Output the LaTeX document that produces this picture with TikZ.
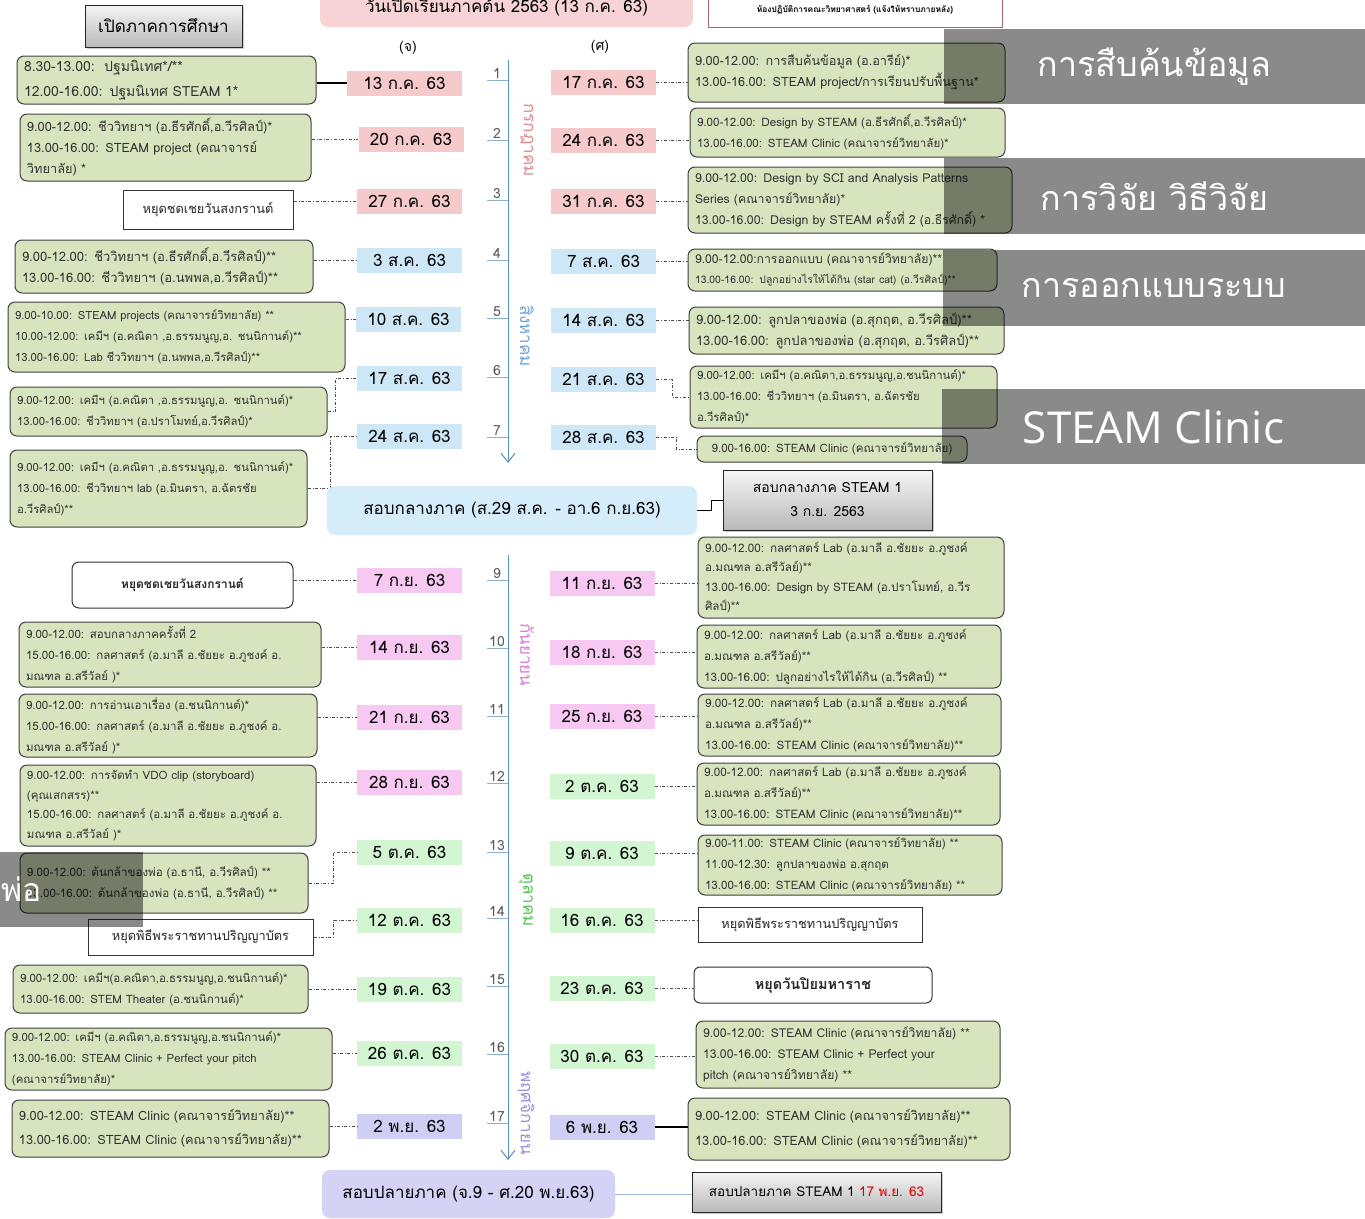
\documentclass[tikz,border=0pt]{standalone}
\usepackage{fontspec}
\setmainfont{Loma}[Script=Thai]
\newfontfamily\capfont{Open Sans}
\usetikzlibrary{arrows.meta,shadows}

\definecolor{actgreen}{HTML}{D7E4BD}
\definecolor{julpink}{HTML}{F6C9CB}
\definecolor{augblue}{HTML}{CDE7F7}
\definecolor{seppink}{HTML}{F7C8F1}
\definecolor{octgreen}{HTML}{D2F6D2}
\definecolor{novpurple}{HTML}{CFCFF5}
\definecolor{axisblue}{HTML}{5B8DBE}
\definecolor{julred}{HTML}{E08A8E}
\definecolor{augtxt}{HTML}{6FA3D4}
\definecolor{sepmag}{HTML}{D97BD6}
\definecolor{octgrn}{HTML}{55C155}
\definecolor{novpur}{HTML}{9A8FD8}
\definecolor{midblue}{HTML}{D5ECFA}
\definecolor{finpurple}{HTML}{D5D3F5}
\definecolor{toppink}{HTML}{F8D3D5}

\begin{document}
\begin{tikzpicture}[x=1pt,y=-1pt,
    act/.style={draw=black!75, line width=1pt, rounded corners=7pt, fill=actgreen,
        align=left, inner xsep=7pt, inner ysep=2pt, text=black!80,
        font=\fontsize{#1}{21}\selectfont},
    act/.default=12,
    off/.style={draw=black!80, line width=1pt, fill=white, text=black!85,
        font=\fontsize{12.8}{14}\selectfont},
    date/.style={minimum width=105, minimum height=25, inner sep=0pt,
        font=\fontsize{17}{19}\selectfont},
    wk/.style={anchor=south, inner sep=1pt, text=black!65, font=\fontsize{14}{16}\selectfont},
    month/.style={rotate=-90, font=\fontsize{17}{19}\selectfont},
    grey box/.style={draw=black!85, line width=1pt, top color=gray!8, bottom color=gray!55,
        drop shadow={shadow xshift=2pt, shadow yshift=-2pt, opacity=0.4}},
    caption/.style={fill=black, fill opacity=0.46, text opacity=1, text=white,
        inner sep=0pt, font=\fontsize{34}{40}\selectfont},
    link/.style={dash dot, line width=0.7pt, black!70}]
\useasboundingbox (0,0) rectangle (1365,1218);

% header
\node[grey box, minimum width=157, minimum height=42, font=\fontsize{17}{19}\selectfont] (opensem) at (163.5,26) {เปิดภาคการศึกษา};
\node[fill=toppink, rounded corners=8pt, minimum width=373, minimum height=40, font=\fontsize{17}{19}\selectfont] (semstart) at (506.5,7) {วันเปิดเรียนภาคต้น 2563 (13 ก.ค. 63)};
\node[draw=red!45!black!60, fill=white, minimum width=294, minimum height=34, font=\bfseries\fontsize{8.4}{10}\selectfont] (labroom) at (855,10) {ห้องปฏิบัติการคณะวิทยาศาสตร์ (แจ้งให้ทราบภายหลัง)};
\node[font=\fontsize{14}{16}\selectfont] (hmon) at (408,48) {(จ)};
\node[font=\fontsize{14}{16}\selectfont] (hfri) at (600,47) {(ศ)};

% first half: weeks 1-7
\draw[axisblue, line width=1pt, -{Straight Barb[length=9pt,width=14pt]}] (508,60) -- (508,463);
\foreach \n/\y in {1/80,2/140,3/200,4/260,5/318,6/377,7/437}{
    \draw[axisblue!70, line width=0.8pt] (487,\y) -- (508,\y);
    \node[wk] (wk\n) at (497,\y) {\n};
}
\node[month, text=julred] (jul) at (527,140) {กรกฎาคม};
\node[month, text=augtxt] (aug) at (527,336) {สิงหาคม};

% monday dates
\node[date, fill=julpink, minimum width=115] (mon1) at (404.5,83) {13 ก.ค. 63};
\node[date, fill=julpink] (mon2) at (411,139) {20 ก.ค. 63};
\node[date, fill=julpink] (mon3) at (409.5,201) {27 ก.ค. 63};
\node[date, fill=augblue] (mon4) at (409.5,260) {3 ส.ค. 63};
\node[date, fill=augblue] (mon5) at (408.5,319) {10 ส.ค. 63};
\node[date, fill=augblue] (mon6) at (409.5,378) {17 ส.ค. 63};
\node[date, fill=augblue] (mon7) at (409.5,436) {24 ส.ค. 63};
% friday dates
\node[date, fill=julpink] (fri1) at (603.5,82) {17 ก.ค. 63};
\node[date, fill=julpink] (fri2) at (603.5,140) {24 ก.ค. 63};
\node[date, fill=julpink] (fri3) at (603.5,201) {31 ก.ค. 63};
\node[date, fill=augblue] (fri4) at (603.5,261) {7 ส.ค. 63};
\node[date, fill=augblue] (fri5) at (603.5,320) {14 ส.ค. 63};
\node[date, fill=augblue] (fri6) at (603.5,379) {21 ส.ค. 63};
\node[date, fill=augblue] (fri7) at (603.5,437) {28 ส.ค. 63};

% monday activities
\node[act, text width=285, minimum height=48, font=\fontsize{14}{25}\selectfont] (amon1) at (166.5,80) {8.30-13.00:\ \ ปฐมนิเทศ*/**\\12.00-16.00: ปฐมนิเทศ STEAM 1*};
\node[act=12.8, text width=277, minimum height=67] (amon2) at (165.5,147.5) {9.00-12.00: ชีววิทยาฯ (อ.ธีรศักดิ์,อ.วีรศิลป์)*\\13.00-16.00: STEAM project (คณาจารย์\\วิทยาลัย) *};
\node[off, minimum width=170, minimum height=39] (amon3) at (208,209.5) {หยุดชดเชยวันสงกรานต์};
\node[act=13, text width=284, minimum height=53] (amon4) at (164,266.5) {9.00-12.00: ชีววิทยาฯ (อ.ธีรศักดิ์,อ.วีรศิลป์)**\\13.00-16.00: ชีววิทยาฯ (อ.นพพล,อ.วีรศิลป์)**};
\node[act=11.3, text width=323, minimum height=70] (amon5) at (176.5,337) {9.00-10.00: STEAM projects (คณาจารย์วิทยาลัย) **\\10.00-12.00: เคมีฯ (อ.คณิตา ,อ.ธรรมนูญ,อ. ชนนิกานต์)**\\13.00-16.00: Lab ชีววิทยาฯ (อ.นพพล,อ.วีรศิลป์)**};
\node[act=11.3, text width=303, minimum height=49] (amon6) at (168.5,411.5) {9.00-12.00: เคมีฯ (อ.คณิตา ,อ.ธรรมนูญ,อ. ชนนิกานต์)*\\13.00-16.00: ชีววิทยาฯ (อ.ปราโมทย์,อ.วีรศิลป์)*};
\node[act=11.3, text width=283, minimum height=77] (amon7) at (158.5,488.5) {9.00-12.00: เคมีฯ (อ.คณิตา ,อ.ธรรมนูญ,อ. ชนนิกานต์)*\\13.00-16.00: ชีววิทยาฯ lab (อ.มินตรา, อ.ฉัตรชัย\\อ.วีรศิลป์)**};

% friday activities
\node[act=12.7, text width=303, minimum height=59] (afri1) at (846.5,72.5) {9.00-12.00: การสืบค้นข้อมูล (อ.อารีย์)*\\13.00-16.00: STEAM project/การเรียนปรับพื้นฐาน*};
\node[act=11.6, text width=301, minimum height=49] (afri2) at (847.5,132.5) {9.00-12.00: Design by STEAM (อ.ธีรศักดิ์,อ.วีรศิลป์)*\\13.00-16.00: STEAM Clinic (คณาจารย์วิทยาลัย)*};
\node[act=12.3, text width=310, minimum height=66] (afri3) at (850,200) {9.00-12.00: Design by SCI and Analysis Patterns\\Series (คณาจารย์วิทยาลัย)*\\13.00-16.00: Design by STEAM ครั้งที่ 2 (อ.ธีรศักดิ์) *};
\node[act=12.2, text width=295, minimum height=42, font=\fontsize{12.2}{20}\selectfont] (afri4) at (842.5,270) {9.00-12.00:การออกแบบ (คณาจารย์วิทยาลัย)**\\{\fontsize{10.4}{12}\selectfont 13.00-16.00: ปลูกอย่างไรให้ได้กิน (star cat) (อ.วีรศิลป์)**}};
\node[act=13, text width=301, minimum height=47] (afri5) at (846.5,330.5) {9.00-12.00: ลูกปลาของพ่อ (อ.สุกฤต, อ.วีรศิลป์)**\\13.00-16.00: ลูกปลาของพ่อ (อ.สุกฤต, อ.วีรศิลป์)**};
\node[act=11.4, text width=293, minimum height=62] (afri6) at (843.5,397) {9.00-12.00: เคมีฯ (อ.คณิตา,อ.ธรรมนูญ,อ.ชนนิกานต์)*\\13.00-16.00: ชีววิทยาฯ (อ.มินตรา, อ.ฉัตรชัย\\อ.วีรศิลป์)*};
\node[act=11.6, align=center, text width=256, minimum height=26, inner ysep=0pt] (afri7) at (832,449) {9.00-16.00: STEAM Clinic (คณาจารย์วิทยาลัย)};

% links first half
\draw[line width=1.2pt] (amon1.east |- mon1) -- (mon1.west);
\foreach \n in {2,3,4,5}{
    \draw[link] (amon\n.east |- mon\n) -- (mon\n.west);
}
\draw[link] (amon6.east) -- ++(8,0) |- (mon6.west);
\draw[link] (amon7.east) -- ++(23,0) |- (mon7.west);
\foreach \n in {1,2,3,4,5}{
    \draw[link] (fri\n.east) -- (afri\n.west |- fri\n);
}
\draw[link] (fri6.east) -- ++(16,0) |- (afri6.west);
\draw[link] (fri7.east) -- ++(20,0) |- (afri7.west);

% midterm
\node[fill=midblue, rounded corners=8pt, minimum width=370, minimum height=49, font=\fontsize{17}{19}\selectfont] (midexam) at (512,510.5) {สอบกลางภาค (ส.29 ส.ค. - อา.6 ก.ย.63)};
\node[grey box, align=center, minimum width=209, minimum height=60, font=\fontsize{14}{24}\selectfont] (midsteam) at (827.5,500) {สอบกลางภาค STEAM 1\\3 ก.ย. 2563};
\draw[line width=1pt] (midexam.east) -- ++(14,0) |- (midsteam.west);

% second half: weeks 9-17
\draw[axisblue, line width=1pt, -{Straight Barb[length=9pt,width=14pt]}] (508,555) -- (508,1160);
\foreach \n/\y in {9/580,10/648,11/716,12/783,13/852,14/918,15/986,16/1054,17/1123}{
    \draw[axisblue!70, line width=0.8pt] (487,\y) -- (508,\y);
    \node[wk] (wk\n) at (497,\y) {\n};
}
\node[month, text=sepmag] (sep) at (527,655) {กันยายน};
\node[month, text=octgrn] (oct) at (526,900) {ตุลาคม};
\node[month, text=novpur] (nov) at (526,1113) {พฤศจิกายน};

% monday dates
\node[date, fill=seppink] (mon9) at (409.5,580) {7 ก.ย. 63};
\node[date, fill=seppink] (mon10) at (409.5,647) {14 ก.ย. 63};
\node[date, fill=seppink] (mon11) at (409.5,717) {21 ก.ย. 63};
\node[date, fill=seppink] (mon12) at (409.5,782) {28 ก.ย. 63};
\node[date, fill=octgreen] (mon13) at (409.5,852) {5 ต.ค. 63};
\node[date, fill=octgreen] (mon14) at (409.5,920) {12 ต.ค. 63};
\node[date, fill=octgreen] (mon15) at (409.5,989) {19 ต.ค. 63};
\node[date, fill=octgreen] (mon16) at (409.5,1053) {26 ต.ค. 63};
\node[date, fill=novpurple] (mon17) at (409.5,1126) {2 พ.ย. 63};
% friday dates
\node[date, fill=seppink] (fri9) at (602,583) {11 ก.ย. 63};
\node[date, fill=seppink] (fri10) at (602,652) {18 ก.ย. 63};
\node[date, fill=seppink] (fri11) at (602,716) {25 ก.ย. 63};
\node[date, fill=octgreen] (fri12) at (602,786) {2 ต.ค. 63};
\node[date, fill=octgreen] (fri13) at (602,853) {9 ต.ค. 63};
\node[date, fill=octgreen] (fri14) at (602,920) {16 ต.ค. 63};
\node[date, fill=octgreen] (fri15) at (602,988) {23 ต.ค. 63};
\node[date, fill=octgreen] (fri16) at (602,1056) {30 ต.ค. 63};
\node[date, fill=novpurple] (fri17) at (602,1127) {6 พ.ย. 63};

% monday activities
\node[off, rounded corners=7pt, minimum width=221, minimum height=46, font=\bfseries\fontsize{12}{14}\selectfont] (amon9) at (182.5,585) {หยุดชดเชยวันสงกรานต์};
\node[act=11.5, text width=288, minimum height=65] (amon10) at (170,654.5) {9.00-12.00: สอบกลางภาคครั้งที่ 2\\15.00-16.00: กลศาสตร์ (อ.มาลี อ.ชัยยะ อ.ภูชงค์ อ.\\มณฑล อ.สรีวัลย์ )*};
\node[act=11.5, text width=284, minimum height=63] (amon11) at (168,725.5) {9.00-12.00: การอ่านเอาเรื่อง (อ.ชนนิกานต์)*\\15.00-16.00: กลศาสตร์ (อ.มาลี อ.ชัยยะ อ.ภูชงค์ อ.\\มณฑล อ.สรีวัลย์ )*};
\node[act, text width=282, minimum height=81, font=\fontsize{11.5}{19.5}\selectfont] (amon12) at (168,805.5) {9.00-12.00: การจัดทำ VDO clip (storyboard)\\(คุณเสกสรร)**\\15.00-16.00: กลศาสตร์ (อ.มาลี อ.ชัยยะ อ.ภูชงค์ อ.\\มณฑล อ.สรีวัลย์ )*};
\node[act=11.6, text width=274, minimum height=60] (amon13) at (164,883) {9.00-12.00: ต้นกล้าของพ่อ (อ.ธานี, อ.วีรศิลป์) **\\13.00-16.00: ต้นกล้าของพ่อ (อ.ธานี, อ.วีรศิลป์) **};
\node[off, minimum width=225, minimum height=36] (amon14) at (200.5,937) {หยุดพิธีพระราชทานปริญญาบัตร};
\node[act=11.5, text width=281, minimum height=48] (amon15) at (160.5,989) {9.00-12.00: เคมีฯ(อ.คณิตา,อ.ธรรมนูญ,อ.ชนนิกานต์)*\\13.00-16.00: STEM Theater (อ.ชนนิกานต์)*};
\node[act=11.4, text width=313, minimum height=62] (amon16) at (168.5,1059) {9.00-12.00: เคมีฯ (อ.คณิตา,อ.ธรรมนูญ,อ.ชนนิกานต์)*\\13.00-16.00: STEAM Clinic + Perfect your pitch\\(คณาจารย์วิทยาลัย)*};
\node[act=12.8, text width=303, minimum height=57, font=\fontsize{12.8}{24}\selectfont] (amon17) at (170.5,1128.5) {9.00-12.00: STEAM Clinic (คณาจารย์วิทยาลัย)**\\13.00-16.00: STEAM Clinic (คณาจารย์วิทยาลัย)**};

% friday activities
\node[act, text width=292, minimum height=81, font=\fontsize{11.7}{19.5}\selectfont] (afri9) at (851,577.5) {9.00-12.00: กลศาสตร์ Lab (อ.มาลี อ.ชัยยะ อ.ภูชงค์\\อ.มณฑล อ.สรีวัลย์)**\\13.00-16.00: Design by STEAM (อ.ปราโมทย์, อ.วีร\\ศิลป์)**};
\node[act=11.7, text width=290, minimum height=63] (afri10) at (849,656.5) {9.00-12.00: กลศาสตร์ Lab (อ.มาลี อ.ชัยยะ อ.ภูชงค์\\อ.มณฑล อ.สรีวัลย์)**\\13.00-16.00: ปลูกอย่างไรให้ได้กิน (อ.วีรศิลป์) **};
\node[act=11.7, text width=289, minimum height=62] (afri11) at (849.5,725) {9.00-12.00: กลศาสตร์ Lab (อ.มาลี อ.ชัยยะ อ.ภูชงค์\\อ.มณฑล อ.สรีวัลย์)**\\13.00-16.00: STEAM Clinic (คณาจารย์วิทยาลัย)**};
\node[act=11.7, text width=289, minimum height=62] (afri12) at (848.5,794) {9.00-12.00: กลศาสตร์ Lab (อ.มาลี อ.ชัยยะ อ.ภูชงค์\\อ.มณฑล อ.สรีวัลย์)**\\13.00-16.00: STEAM Clinic (คณาจารย์วิทยาลัย)**};
\node[act=11.6, text width=290, minimum height=60] (afri13) at (850,865) {9.00-11.00: STEAM Clinic (คณาจารย์วิทยาลัย) **\\11.00-12.30: ลูกปลาของพ่อ อ.สุกฤต\\13.00-16.00: STEAM Clinic (คณาจารย์วิทยาลัย) **};
\node[off, minimum width=224, minimum height=35] (afri14) at (810,924.5) {หยุดพิธีพระราชทานปริญญาบัตร};
\node[off, rounded corners=6pt, minimum width=238, minimum height=36, font=\bfseries\fontsize{14.5}{16}\selectfont] (afri15) at (813,985) {หยุดวันปิยมหาราช};
\node[act=12.2, text width=290, minimum height=67] (afri16) at (848,1054.5) {9.00-12.00: STEAM Clinic (คณาจารย์วิทยาลัย) **\\13.00-16.00: STEAM Clinic + Perfect your\\pitch (คณาจารย์วิทยาลัย) **};
\node[act=12.8, text width=308, minimum height=62, font=\fontsize{12.8}{25}\selectfont] (afri17) at (849,1129) {9.00-12.00: STEAM Clinic (คณาจารย์วิทยาลัย)**\\13.00-16.00: STEAM Clinic (คณาจารย์วิทยาลัย)**};

% links second half
\foreach \n in {9,10,11,12,15,16,17}{
    \draw[link] (amon\n.east |- mon\n) -- (mon\n.west);
}
\draw[link] (amon13.east) -- ++(25,0) |- (mon13.west);
\draw[link] (amon14.east) -- ++(20,0) |- (mon14.west);
\foreach \n in {9,10,11,12,13,14,15,16}{
    \draw[link] (fri\n.east) -- (afri\n.west |- fri\n);
}
\draw[line width=1.2pt] (fri17.east) -- (afri17.west |- fri17);

% final exam
\node[fill=finpurple, rounded corners=8pt, minimum width=293, minimum height=48, font=\fontsize{17}{19}\selectfont] (finexam) at (468.5,1194) {สอบปลายภาค (จ.9 - ศ.20 พ.ย.63)};
\node[grey box, minimum width=249, minimum height=40, font=\fontsize{13.5}{15}\selectfont] (finsteam) at (816.5,1192) {สอบปลายภาค STEAM 1 \textcolor{red!85!black}{17 พ.ย. 63}};
\draw[line width=1pt, axisblue!60] (finexam.east) -- (finsteam.west |- finexam);

% captions over the picture
\node[caption, minimum width=421, minimum height=75] (cap1) at (1154.5,66.5) {การสืบค้นข้อมูล};
\node[caption, minimum width=421, minimum height=76] (cap2) at (1154.5,196) {การวิจัย วิธีวิจัย};
\node[caption, minimum width=422, minimum height=76] (cap3) at (1154,288) {การออกแบบระบบ};
\node[caption, minimum width=423, minimum height=75, font=\capfont\fontsize{44}{48}\selectfont] (cap4) at (1153.5,426.5) {STEAM Clinic};
\node[caption, minimum width=143, minimum height=75] (cap5) at (71.5,889.5) {};
\node[text=white, anchor=west, inner sep=0pt, font=\fontsize{32}{40}\selectfont] (cap5txt) at (1,889.5) {พ่อ};
\end{tikzpicture}
\end{document}
